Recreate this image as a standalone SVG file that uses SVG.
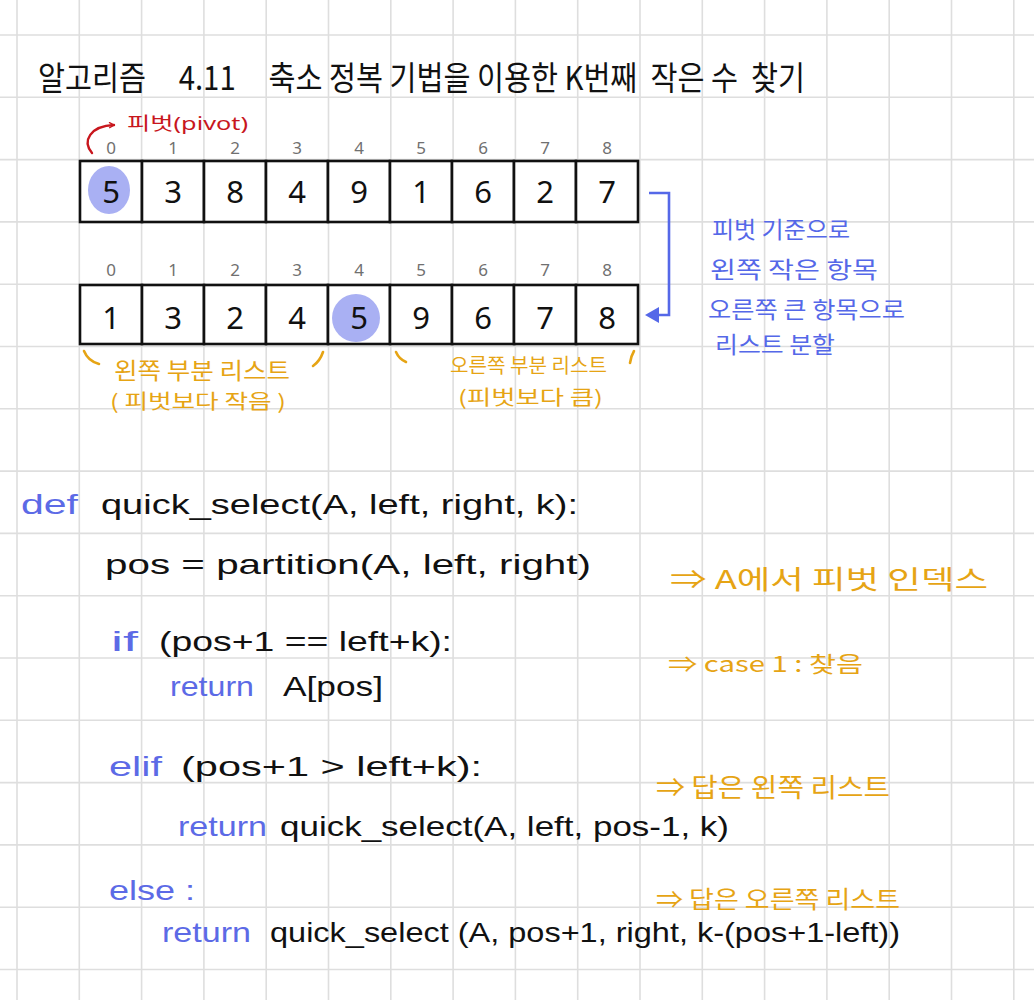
<svg xmlns="http://www.w3.org/2000/svg" width="1034" height="1000" viewBox="0 0 1034 1000">
<style>
.grid line{stroke:#dedede;stroke-width:1.6}
.cell{fill:#fff;stroke:#111;stroke-width:2.6}
.idx{font-family:"Noto Sans","Noto Sans CJK KR",sans-serif;font-size:17px;fill:#707070;text-anchor:middle}
.num{font-family:"Noto Sans","Noto Sans CJK KR",sans-serif;font-size:31px;fill:#111;text-anchor:middle}
.title{font-family:"Noto Sans CJK KR",sans-serif;font-size:33px;fill:#111;white-space:pre}
.code{font-family:"Liberation Sans","Noto Sans CJK KR",sans-serif;font-size:28px;fill:#111}
.kw{font-family:"Liberation Sans","Noto Sans CJK KR",sans-serif;font-size:28px;fill:#5c6ae6}
.or{font-family:"Noto Sans CJK KR",sans-serif;fill:#e6a414}
.bl{font-family:"Noto Sans CJK KR",sans-serif;font-size:23px;fill:#5568e8}
.red{font-family:"Noto Sans","Noto Sans CJK KR",sans-serif;font-size:18px;fill:#c8161d}
.pv{fill:#a9b0f3}
.tick{fill:none;stroke:#e6a414;stroke-width:2.6;stroke-linecap:round}
</style>
<defs>
<marker id="redHead" viewBox="0 0 10 10" refX="8" refY="5" markerWidth="7" markerHeight="7" orient="auto" markerUnits="userSpaceOnUse">
<path d="M1 1 L8 5 L1 9" fill="none" stroke="#c8161d" stroke-width="2"/>
</marker>
</defs>
<rect width="1034" height="1000" fill="#fff"/>
<g class="grid" id="grid">
<line x1="17" y1="0" x2="17" y2="1000"/><line x1="79.3" y1="0" x2="79.3" y2="1000"/><line x1="141.6" y1="0" x2="141.6" y2="1000"/><line x1="203.9" y1="0" x2="203.9" y2="1000"/><line x1="266.2" y1="0" x2="266.2" y2="1000"/><line x1="328.5" y1="0" x2="328.5" y2="1000"/><line x1="390.8" y1="0" x2="390.8" y2="1000"/><line x1="453.1" y1="0" x2="453.1" y2="1000"/><line x1="515.4" y1="0" x2="515.4" y2="1000"/><line x1="577.7" y1="0" x2="577.7" y2="1000"/><line x1="640" y1="0" x2="640" y2="1000"/><line x1="702.3" y1="0" x2="702.3" y2="1000"/><line x1="764.6" y1="0" x2="764.6" y2="1000"/><line x1="826.9" y1="0" x2="826.9" y2="1000"/><line x1="889.2" y1="0" x2="889.2" y2="1000"/><line x1="951.5" y1="0" x2="951.5" y2="1000"/><line x1="1013.8" y1="0" x2="1013.8" y2="1000"/>
<line x1="0" y1="35" x2="1034" y2="35"/><line x1="0" y1="97.3" x2="1034" y2="97.3"/><line x1="0" y1="159.6" x2="1034" y2="159.6"/><line x1="0" y1="221.9" x2="1034" y2="221.9"/><line x1="0" y1="284.2" x2="1034" y2="284.2"/><line x1="0" y1="346.5" x2="1034" y2="346.5"/><line x1="0" y1="408.8" x2="1034" y2="408.8"/><line x1="0" y1="471.1" x2="1034" y2="471.1"/><line x1="0" y1="533.4" x2="1034" y2="533.4"/><line x1="0" y1="595.7" x2="1034" y2="595.7"/><line x1="0" y1="658" x2="1034" y2="658"/><line x1="0" y1="720.3" x2="1034" y2="720.3"/><line x1="0" y1="782.6" x2="1034" y2="782.6"/><line x1="0" y1="844.9" x2="1034" y2="844.9"/><line x1="0" y1="907.2" x2="1034" y2="907.2"/><line x1="0" y1="969.5" x2="1034" y2="969.5"/>
</g>
<g id="title">
<text class="title" xml:space="preserve" x="38" y="90" textLength="767" lengthAdjust="spacingAndGlyphs">알고리즘     4.11     축소 정복 기법을 이용한 K번째  작은 수  찾기</text>
</g>
<g id="pivot-label">
<path d="M92 153 C82 141 90 126 114 125" fill="none" stroke="#c8161d" stroke-width="2.4" stroke-linecap="round" marker-end="url(#redHead)"/>
<text class="red" x="127" y="130" textLength="121" lengthAdjust="spacingAndGlyphs">피벗(pivot)</text>
</g>
<g id="array-before">
<rect class="cell" x="80" y="161" width="62" height="61"/><rect class="cell" x="142" y="161" width="62" height="61"/><rect class="cell" x="204" y="161" width="62" height="61"/><rect class="cell" x="266" y="161" width="62" height="61"/><rect class="cell" x="328" y="161" width="62" height="61"/><rect class="cell" x="390" y="161" width="62" height="61"/><rect class="cell" x="452" y="161" width="62" height="61"/><rect class="cell" x="514" y="161" width="62" height="61"/><rect class="cell" x="576" y="161" width="62" height="61"/>
<ellipse class="pv" cx="109" cy="190" rx="21" ry="24"/>
<text class="idx" x="111" y="154">0</text><text class="idx" x="173" y="154">1</text><text class="idx" x="235" y="154">2</text><text class="idx" x="297" y="154">3</text><text class="idx" x="359" y="154">4</text><text class="idx" x="421" y="154">5</text><text class="idx" x="483" y="154">6</text><text class="idx" x="545" y="154">7</text><text class="idx" x="607" y="154">8</text>
<text class="num" x="111" y="203">5</text><text class="num" x="173" y="203">3</text><text class="num" x="235" y="203">8</text><text class="num" x="297" y="203">4</text><text class="num" x="359" y="203">9</text><text class="num" x="421" y="203">1</text><text class="num" x="483" y="203">6</text><text class="num" x="545" y="203">2</text><text class="num" x="607" y="203">7</text>
</g>
<g id="array-after">
<rect class="cell" x="80" y="285" width="62" height="59"/><rect class="cell" x="142" y="285" width="62" height="59"/><rect class="cell" x="204" y="285" width="62" height="59"/><rect class="cell" x="266" y="285" width="62" height="59"/><rect class="cell" x="328" y="285" width="62" height="59"/><rect class="cell" x="390" y="285" width="62" height="59"/><rect class="cell" x="452" y="285" width="62" height="59"/><rect class="cell" x="514" y="285" width="62" height="59"/><rect class="cell" x="576" y="285" width="62" height="59"/>
<ellipse class="pv" cx="356" cy="318" rx="24" ry="24"/>
<text class="idx" x="111" y="276">0</text><text class="idx" x="173" y="276">1</text><text class="idx" x="235" y="276">2</text><text class="idx" x="297" y="276">3</text><text class="idx" x="359" y="276">4</text><text class="idx" x="421" y="276">5</text><text class="idx" x="483" y="276">6</text><text class="idx" x="545" y="276">7</text><text class="idx" x="607" y="276">8</text>
<text class="num" x="111" y="329">1</text><text class="num" x="173" y="329">3</text><text class="num" x="235" y="329">2</text><text class="num" x="297" y="329">4</text><text class="num" x="359" y="329">5</text><text class="num" x="421" y="329">9</text><text class="num" x="483" y="329">6</text><text class="num" x="545" y="329">7</text><text class="num" x="607" y="329">8</text>
</g>
<g id="connectors">
<path d="M649 193 H669 V315 H656" fill="none" stroke="#5568e8" stroke-width="2.6"/>
<polygon points="645,315 659,307 659,323" fill="#5568e8"/>
</g>
<g id="partition-note">
<text class="bl" x="712" y="238" textLength="138" lengthAdjust="spacingAndGlyphs">피벗 기준으로</text>
<text class="bl" x="710" y="278" textLength="168" lengthAdjust="spacingAndGlyphs">왼쪽  작은 항목</text>
<text class="bl" x="708" y="318" textLength="197" lengthAdjust="spacingAndGlyphs">오른쪽  큰 항목으로</text>
<text class="bl" x="715" y="353" textLength="120" lengthAdjust="spacingAndGlyphs">리스트  분할</text>
</g>
<g id="sublist-labels">
<path class="tick" d="M84 351 Q88 361 99 364"/>
<path class="tick" d="M323 352 Q320 361 313 366"/>
<path class="tick" d="M396 352 Q399 359 406 362"/>
<path class="tick" d="M634 351 Q631 356 630 363"/>
<text class="or" font-size="23" x="114" y="379" textLength="176" lengthAdjust="spacingAndGlyphs">왼쪽 부분 리스트</text>
<text class="or" font-size="20" x="110" y="409" textLength="176" lengthAdjust="spacingAndGlyphs">( 피벗보다 작음 )</text>
<text class="or" font-size="20" x="450" y="373" textLength="157" lengthAdjust="spacingAndGlyphs">오른쪽 부분 리스트</text>
<text class="or" font-size="20" x="458" y="405" textLength="145" lengthAdjust="spacingAndGlyphs">(피벗보다 큼)</text>
</g>
<g id="code">
<text class="kw" font-size="32" x="21" y="514" textLength="57" lengthAdjust="spacingAndGlyphs">def</text>
<text class="code" x="101" y="514" textLength="477" lengthAdjust="spacingAndGlyphs">quick_select(A, left, right, k):</text>
<text class="code" x="105" y="574" textLength="486" lengthAdjust="spacingAndGlyphs">pos = partition(A, left, right)</text>
<text class="kw" x="111" y="651" textLength="27" lengthAdjust="spacingAndGlyphs">if</text>
<text class="code" x="159" y="651" textLength="293" lengthAdjust="spacingAndGlyphs">(pos+1 == left+k):</text>
<text class="kw" x="170" y="696" textLength="84" lengthAdjust="spacingAndGlyphs">return</text>
<text class="code" x="283" y="696" textLength="100" lengthAdjust="spacingAndGlyphs">A[pos]</text>
<text class="kw" x="109" y="776" textLength="53" lengthAdjust="spacingAndGlyphs">elif</text>
<text class="code" x="181" y="776" textLength="301" lengthAdjust="spacingAndGlyphs">(pos+1 &gt; left+k):</text>
<text class="kw" x="178" y="836" textLength="89" lengthAdjust="spacingAndGlyphs">return</text>
<text class="code" x="280" y="836" textLength="449" lengthAdjust="spacingAndGlyphs">quick_select(A, left, pos-1, k)</text>
<text class="kw" x="109" y="900" textLength="86" lengthAdjust="spacingAndGlyphs">else :</text>
<text class="kw" x="162" y="942" textLength="89" lengthAdjust="spacingAndGlyphs">return</text>
<text class="code" x="270" y="942" textLength="630" lengthAdjust="spacingAndGlyphs">quick_select (A, pos+1, right, k-(pos+1-left))</text>
</g>
<g id="code-notes">
<text class="or" font-size="26" x="670" y="589" textLength="318" lengthAdjust="spacingAndGlyphs">⇒ A에서 피벗 인덱스</text>
<text class="or" font-size="22" x="668" y="672" textLength="195" lengthAdjust="spacingAndGlyphs">⇒ case 1 : 찾음</text>
<text class="or" font-size="26" x="656" y="797" textLength="234" lengthAdjust="spacingAndGlyphs">⇒ 답은 왼쪽 리스트</text>
<text class="or" font-size="24" x="656" y="908" textLength="244" lengthAdjust="spacingAndGlyphs">⇒ 답은 오른쪽 리스트</text>
</g>
</svg>
